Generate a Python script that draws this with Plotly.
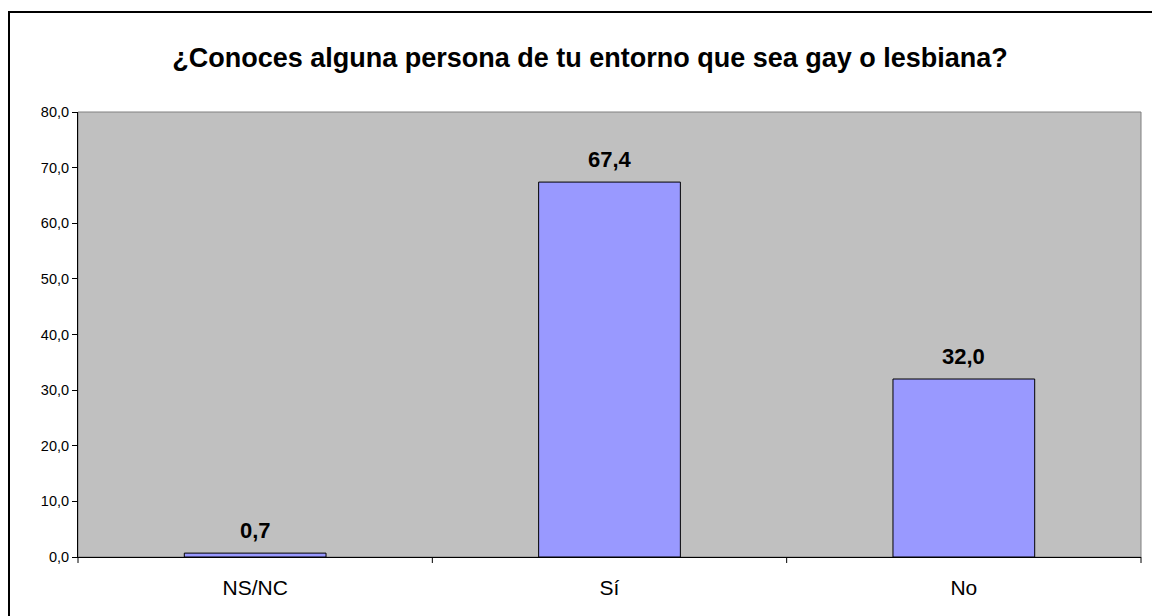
import plotly.graph_objects as go

categories = ["NS/NC", "Sí", "No"]
values = [0.7, 67.4, 32.0]
value_labels = ["0,7", "67,4", "32,0"]
y_tickvals = [0, 10, 20, 30, 40, 50, 60, 70, 80]
y_ticktext = ["0,0", "10,0", "20,0", "30,0", "40,0", "50,0", "60,0", "70,0", "80,0"]
title_text = "¿Conoces alguna persona de tu entorno que sea gay o lesbiana?"

FONT = "Arial, Liberation Sans, sans-serif"
OFF = 8  # page body offset
W, H = 1160 - OFF, 616 - OFF
L, T = 78 - OFF, 112 - OFF
R = W - (1141 - OFF)
B = H - (557.5 - OFF)
pw, ph = W - L - R, H - T - B

fig = go.Figure()
fig.add_trace(go.Bar(
    x=categories, y=values,
    marker=dict(color="#9999FF", line=dict(color="black", width=1)),
    width=0.4, hoverinfo="x+y",
))

annotations = [
    dict(x=c, y=v, text="<b>" + t + "</b>", showarrow=False, yanchor="bottom",
         yshift=8, font=dict(family=FONT, size=22, color="black"))
    for c, v, t in zip(categories, values, value_labels)
]

def px_x(p):
    return (p - OFF - L) / pw

def px_y(p):
    return (H - B - (p - OFF)) / ph

shapes = [
    # outer chart frame: only left and top edges are visible in the view
    dict(type="line", xref="paper", yref="paper", x0=px_x(9), x1=px_x(9),
         y0=px_y(900), y1=px_y(12), line=dict(color="black", width=2), layer="below"),
    dict(type="line", xref="paper", yref="paper", x0=px_x(8), x1=px_x(1400),
         y0=px_y(12), y1=px_y(12), line=dict(color="black", width=2), layer="below"),
    dict(type="rect", xref="paper", yref="paper", x0=0, x1=1, y0=0, y1=1,
         line=dict(color="#808080", width=1), layer="below"),
]
for i in range(len(categories) + 1):
    xp = i / len(categories)
    shapes.append(dict(type="line", xref="paper", yref="paper", x0=xp, x1=xp,
                       y0=0, y1=-6 / ph, line=dict(color="black", width=1)))

fig.update_layout(
    width=W, height=H,
    margin=dict(l=L, r=R, t=T, b=B),
    paper_bgcolor="white", plot_bgcolor="#C0C0C0",
    font=dict(family=FONT, color="black"),
    title=dict(text="<b>" + title_text + "</b>", x=(590 - OFF) / W, xanchor="center",
               xref="container", y=1 - (58 - OFF) / H, yanchor="middle", yref="container",
               font=dict(size=27, family=FONT, color="black")),
    showlegend=False,
    shapes=shapes,
    annotations=annotations,
)
fig.update_xaxes(
    showline=True, linecolor="black", linewidth=1, showgrid=False,
    ticks="", tickfont=dict(size=21), ticklabelstandoff=12,
)
fig.update_yaxes(
    range=[0, 80], tickvals=y_tickvals, ticktext=y_ticktext,
    showline=True, linecolor="black", linewidth=1, showgrid=False,
    ticks="outside", ticklen=5, tickcolor="black", tickfont=dict(size=14.5),
    zeroline=False,
)

fig.write_html("out.html")
